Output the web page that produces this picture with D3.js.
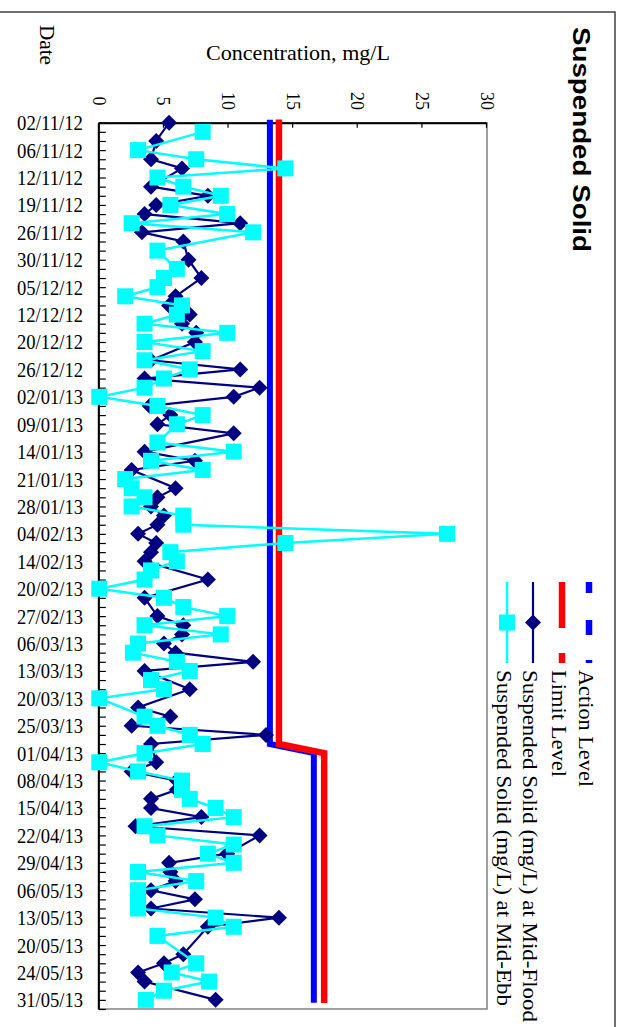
<!DOCTYPE html>
<html>
<head>
<meta charset="utf-8">
<script src="https://cdn.jsdelivr.net/npm/d3@7"></script>
<style>
    html, body {margin: 0; padding: 0; background: #fff;}
    svg {display: block;}
</style>
</head>
<body>
<svg id="chart" width="623" height="1027"></svg>
<script>
// date labels, one on every third sampling
const dateLabels = ["02/11/12", "06/11/12", "12/11/12", "19/11/12", "26/11/12", "30/11/12", "05/12/12",
    "12/12/12", "20/12/12", "26/12/12", "02/01/13", "09/01/13", "14/01/13", "21/01/13", "28/01/13",
    "04/02/13", "14/02/13", "20/02/13", "27/02/13", "06/03/13", "13/03/13", "20/03/13", "25/03/13",
    "01/04/13", "08/04/13", "15/04/13", "22/04/13", "29/04/13", "06/05/13", "13/05/13", "20/05/13",
    "24/05/13", "31/05/13"];
const labelEvery = 3;
const nSamples = 98;
const concTicks = [0, 5, 10, 15, 20, 25, 30];

// mg/L, null where nothing was plotted
const midFlood = [
    5.4, null, 4.4, null, 4.0, 6.4, null, 4.0, 8.4, 4.4,
    3.5, 10.9, 3.3, 6.5, null, 6.9, null, 7.9, null, 5.9,
    5.4, 7.0, 6.4, 7.5, 7.4, null, 4.0, 10.9, 3.5, 12.4,
    10.4, 3.9, 5.5, 4.5, 10.4, null, 3.5, 7.4, 2.5, null,
    5.9, 4.5, 4.0, 5.0, 4.5, 3.0, 4.4, 4.0, 3.5, null,
    8.4, null, 3.5, null, 4.5, 6.5, 6.4, 5.0, 5.9, 11.9,
    3.5, null, 7.0, null, 3.0, 5.5, 2.5, 12.9, 4.0, null,
    4.4, 2.5, 6.0, 6.0, 4.0, 4.0, 7.9, 2.8, 12.4, null,
    9.9, 5.4, 5.5, 5.9, 4.0, 7.4, 4.0, 13.9, 8.4, null,
    null, 6.5, 5.0, 3.0, 3.5, null, 9.0, null];

const midEbb = [
    null, 8.0, null, 3.0, 7.5, 14.4, 4.5, 6.5, 9.4, 5.5,
    9.9, 2.5, 11.9, null, 4.5, null, 6.0, 5.0, 4.5, 2.0,
    6.4, 6.0, 3.5, 9.9, 3.5, 8.0, 3.5, 7.0, 5.0, 3.5,
    0.0, 4.5, 8.0, 6.0, null, 4.5, 10.4, 4.0, 8.0, 2.0,
    2.5, 3.5, 2.5, 6.5, 6.5, 26.9, 14.4, 5.5, 6.0, 4.0,
    3.5, 0.0, 5.0, 6.5, 9.9, 3.5, 9.4, 3.0, 2.6, 6.0,
    7.0, 4.0, 5.0, 0.0, null, 3.5, 4.5, 7.0, 8.0, 3.5,
    0.0, 3.0, 6.4, 6.4, 7.0, 9.0, 10.4, 3.5, 4.5, 10.4,
    8.4, 10.4, 3.0, 7.5, 3.0, 3.0, 3.0, 9.0, 10.4, 4.5,
    null, null, 7.5, 5.6, 8.5, 5.0, 3.6, null];

// action / limit levels, one value per period of samples
const periodFrom = [0, 69];
const periodTo = [68, 96];
const actionLevel = [13.2, 16.6];
const limitLevel = [13.9, 17.4];

const legendNames = ["Action Level", "Limit Level", "Suspended Solid (mg/L) at Mid-Flood", "Suspended Solid (mg/L) at Mid-Ebb"];

const serif = '"Liberation Serif", "Times New Roman", serif';
const navy = "#000080", cyan = "#00ffff";

// chart is laid out lying on its side and turned a quarter clockwise
const plot = {left: 122.7, right: 1009, top: 136, bottom: 523.7};

const svg = d3.select('#chart');

svg.append('rect')
    .attr('x', -5).attr('y', 12)
    .attr('width', 620).attr('height', 1100)
    .attr('fill', 'none')
    .attr('stroke', '#404040')
    .attr('stroke-width', 1.5);

const g = svg.append('g').attr('transform', 'translate(623,0) rotate(90)');

const xScale = d3.scalePoint()
    .domain(d3.range(nSamples))
    .range([plot.left, plot.right]);

const yScale = d3.scaleLinear()
    .domain([0, 30])
    .range([plot.bottom, plot.top]);

// plot area border
g.append('rect')
    .attr('x', plot.left).attr('y', plot.top)
    .attr('width', plot.right - plot.left)
    .attr('height', plot.bottom - plot.top)
    .attr('fill', 'none')
    .attr('stroke', '#808080')
    .attr('stroke-width', 1.5);

const xAxis = g.append('g')
    .attr('transform', `translate(0, ${plot.bottom})`)
    .call(d3.axisBottom(xScale)
        .tickSizeInner(-6.5)
        .tickSizeOuter(0)
        .tickFormat(i => i % labelEvery === 0 ? (dateLabels[i / labelEvery] || '') : ''));
xAxis.select('.domain').attr('stroke', '#000').attr('stroke-width', 2);
xAxis.selectAll('line').attr('stroke', '#000').attr('stroke-width', 1.2);
xAxis.selectAll('text')
    .attr('y', 0).attr('dy', null)
    .attr('transform', 'translate(0,16.3) rotate(-90)')
    .attr('text-anchor', 'end')
    .attr('dominant-baseline', 'central')
    .attr('font-family', serif)
    .attr('font-size', 20.5)
    .attr('fill', '#000')
    .filter(function () { return this.textContent !== ''; })
    .attr('textLength', 66)
    .attr('lengthAdjust', 'spacingAndGlyphs');

const yAxis = g.append('g')
    .attr('transform', `translate(${plot.left}, 0)`)
    .call(d3.axisLeft(yScale)
        .tickValues(concTicks)
        .tickSizeInner(-5)
        .tickSizeOuter(0));
yAxis.select('.domain').attr('stroke', '#000').attr('stroke-width', 2);
yAxis.selectAll('line').attr('stroke', '#000').attr('stroke-width', 1.2);
yAxis.selectAll('text')
    .attr('x', -21.7)
    .attr('dy', null)
    .attr('dominant-baseline', 'central')
    .attr('text-anchor', 'middle')
    .attr('font-family', serif)
    .attr('font-size', 18)
    .attr('fill', '#000');

const line = d3.line()
    .x(d => xScale(d.i))
    .y(d => yScale(d.v));

function levelPoints(levels) {
    const pts = [];
    levels.forEach((v, k) => {
        pts.push({i: periodFrom[k], v: v});
        pts.push({i: periodTo[k], v: v});
    });
    return pts;
}

g.append('path')
    .attr('d', line(levelPoints(actionLevel)))
    .attr('fill', 'none')
    .attr('stroke', '#0000ff')
    .attr('stroke-width', 6)
    .attr('stroke-linecap', 'square');

g.append('path')
    .attr('d', line(levelPoints(limitLevel)))
    .attr('fill', 'none')
    .attr('stroke', '#ff0000')
    .attr('stroke-width', 6.5)
    .attr('stroke-linecap', 'square');

const diamond = d3.symbol().type(d3.symbolSquare).size(128);
const square = d3.symbol().type(d3.symbolSquare).size(256);

const floodPts = midFlood.map((v, i) => ({i, v})).filter(d => d.v !== null);
const ebbPts = midEbb.map((v, i) => ({i, v})).filter(d => d.v !== null);

g.append('path')
    .attr('d', line(floodPts))
    .attr('fill', 'none')
    .attr('stroke', navy)
    .attr('stroke-width', 2.2);

g.selectAll('.dot')
    .data(floodPts)
    .join('path')
    .attr('class', 'dot')
    .attr('d', diamond)
    .attr('transform', d => `translate(${xScale(d.i)},${yScale(d.v)}) rotate(45)`)
    .attr('fill', navy);

g.append('path')
    .attr('d', line(ebbPts))
    .attr('fill', 'none')
    .attr('stroke', cyan)
    .attr('stroke-width', 2.5);

g.selectAll('.sq')
    .data(ebbPts)
    .join('path')
    .attr('class', 'sq')
    .attr('d', square)
    .attr('transform', d => `translate(${xScale(d.i)},${yScale(d.v)})`)
    .attr('fill', cyan);

// titles
g.append('text')
    .attr('x', 27).attr('y', 42)
    .attr('dominant-baseline', 'central')
    .attr('font-family', '"Liberation Sans", Arial, sans-serif')
    .attr('font-weight', 'bold')
    .attr('font-size', 24)
    .attr('textLength', 225)
    .attr('lengthAdjust', 'spacingAndGlyphs')
    .text('Suspended Solid');

g.append('text')
    .attr('transform', 'translate(52,325) rotate(-90)')
    .attr('text-anchor', 'middle')
    .attr('dominant-baseline', 'central')
    .attr('font-family', serif)
    .attr('font-size', 22)
    .attr('textLength', 184)
    .attr('lengthAdjust', 'spacingAndGlyphs')
    .text('Concentration, mg/L');

g.append('text')
    .attr('x', 45).attr('y', 576)
    .attr('text-anchor', 'middle')
    .attr('dominant-baseline', 'central')
    .attr('font-family', serif)
    .attr('font-size', 21)
    .attr('textLength', 40)
    .attr('lengthAdjust', 'spacingAndGlyphs')
    .text('Date');

// legend
const legendRows = [34, 61, 90, 116];
const legendText = [117, 107, 352, 336];
const lx0 = 582, lx1 = 663;

g.append('line')
    .attr('x1', lx0).attr('x2', lx1).attr('y1', legendRows[0]).attr('y2', legendRows[0])
    .attr('stroke', '#0000ff').attr('stroke-width', 6.5)
    .attr('stroke-dasharray', '11 27 15 25');
g.append('line')
    .attr('x1', lx0).attr('x2', lx1).attr('y1', legendRows[1]).attr('y2', legendRows[1])
    .attr('stroke', '#ff0000').attr('stroke-width', 6.5)
    .attr('stroke-dasharray', '46 25');
g.append('line')
    .attr('x1', lx0).attr('x2', lx1).attr('y1', legendRows[2]).attr('y2', legendRows[2])
    .attr('stroke', navy).attr('stroke-width', 2.2);
g.append('path')
    .attr('d', diamond)
    .attr('transform', `translate(${(lx0 + lx1) / 2},${legendRows[2]}) rotate(45)`)
    .attr('fill', navy);
g.append('line')
    .attr('x1', lx0).attr('x2', lx1).attr('y1', legendRows[3]).attr('y2', legendRows[3])
    .attr('stroke', cyan).attr('stroke-width', 2.5);
g.append('path')
    .attr('d', square)
    .attr('transform', `translate(${(lx0 + lx1) / 2},${legendRows[3]})`)
    .attr('fill', cyan);

g.selectAll('.legend-label')
    .data(legendNames)
    .join('text')
    .attr('class', 'legend-label')
    .attr('x', 670)
    .attr('y', (d, k) => legendRows[k] + 3)
    .attr('dominant-baseline', 'central')
    .attr('font-family', serif)
    .attr('font-size', 21)
    .attr('textLength', (d, k) => legendText[k])
    .attr('lengthAdjust', 'spacingAndGlyphs')
    .text(d => d);
</script>
</body>
</html>
